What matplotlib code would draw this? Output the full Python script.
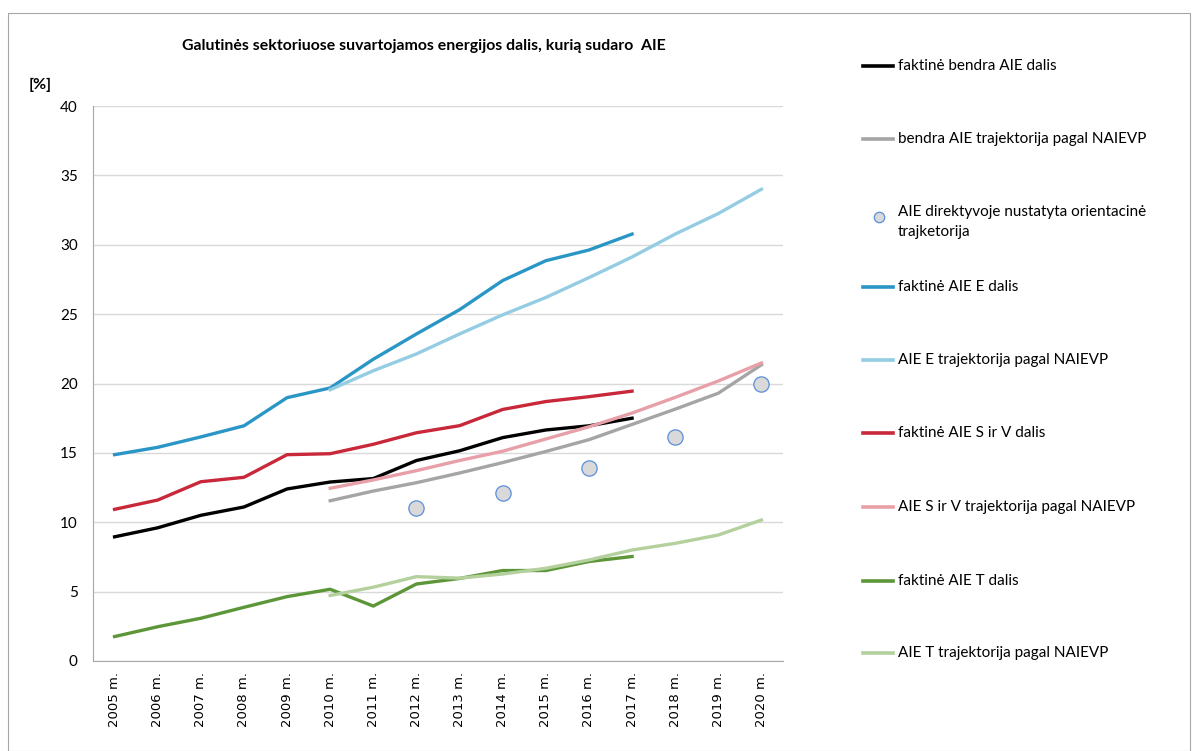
import matplotlib
matplotlib.use("Agg")
import matplotlib.pyplot as plt
from matplotlib.lines import Line2D
from matplotlib.patches import Rectangle

years = [f"{y} m." for y in range(2005, 2021)]

# faktinė bendra AIE dalis (2005-2017)
total_actual = [8.95, 9.6, 10.5, 11.1, 12.4, 12.9, 13.15, 14.45, 15.15, 16.1, 16.65, 16.95, 17.5]
# bendra AIE trajektorija pagal NAIEVP (2010-2020)
total_plan = [11.55, 12.25, 12.85, 13.55, 14.3, 15.1, 15.95, 17.05, 18.15, 19.3, 21.35]
# AIE direktyvoje nustatyta orientacinė trajektorija (2012, 2014, ... 2020)
directive_idx = [7, 9, 11, 13, 15]
directive = [11.0, 12.1, 13.9, 16.15, 20.0]
# E
e_actual = [14.87, 15.4, 16.15, 16.95, 18.98, 19.68, 21.75, 23.57, 25.32, 27.42, 28.85, 29.62, 30.77]
e_plan = [19.55, 20.92, 22.13, 23.57, 24.95, 26.2, 27.63, 29.12, 30.77, 32.25, 34.0]
# S ir V
sv_actual = [10.93, 11.6, 12.92, 13.24, 14.87, 14.94, 15.62, 16.45, 16.96, 18.13, 18.7, 19.05, 19.45]
sv_plan = [12.45, 13.05, 13.72, 14.45, 15.12, 16.0, 16.88, 17.87, 19.0, 20.18, 21.48]
# T
t_actual = [1.76, 2.47, 3.08, 3.87, 4.64, 5.17, 3.96, 5.55, 5.95, 6.52, 6.52, 7.17, 7.53]
t_plan = [4.72, 5.32, 6.08, 5.97, 6.27, 6.68, 7.28, 8.0, 8.48, 9.08, 10.16]

labels = [
    "faktinė bendra AIE dalis",
    "bendra AIE trajektorija pagal NAIEVP",
    "AIE direktyvoje nustatyta orientacinė\ntrajketorija",
    "faktinė AIE E dalis",
    "AIE E trajektorija pagal NAIEVP",
    "faktinė AIE S ir V dalis",
    "AIE S ir V trajektorija pagal NAIEVP",
    "faktinė AIE T dalis",
    "AIE T trajektorija pagal NAIEVP",
]
colors = ["#000000", "#a5a5a5", None, "#2a96c6", "#94cde3",
          "#c8283a", "#e8a0a8", "#5d9639", "#b3d09d"]
dot_face, dot_edge = "#d9d9d9", "#5b8edb"

FONT = ["Lato", "DejaVu Sans"]

fig = plt.figure(figsize=(11.97, 7.51), dpi=100)
fig.add_artist(Rectangle((8 / 1197, 0), 1182 / 1197, 1 - 13 / 751,
                         transform=fig.transFigure, fill=False,
                         edgecolor="#a6a6a6", lw=0.8))
ax = fig.add_axes([93 / 1197, 1 - 661 / 751, 690 / 1197, 555 / 751])

x_act = list(range(len(total_actual)))
x_plan = list(range(5, 5 + len(total_plan)))
lw = 2.4
ax.plot(x_act, total_actual, color=colors[0], lw=lw, zorder=3)
ax.plot(x_plan, total_plan, color=colors[1], lw=lw, zorder=3)
ax.plot(directive_idx, directive, ls="none", marker="o", ms=11,
        mfc=dot_face, mec=dot_edge, mew=0.9, zorder=4)
ax.plot(x_act, e_actual, color=colors[3], lw=lw, zorder=3)
ax.plot(x_plan, e_plan, color=colors[4], lw=lw, zorder=3)
ax.plot(x_act, sv_actual, color=colors[5], lw=lw, zorder=3)
ax.plot(x_plan, sv_plan, color=colors[6], lw=lw, zorder=3)
ax.plot(x_act, t_actual, color=colors[7], lw=lw, zorder=3)
ax.plot(x_plan, t_plan, color=colors[8], lw=lw, zorder=3)

ax.set_xlim(-0.5, len(years) - 0.5)
ax.set_ylim(0, 40)
ax.set_yticks(range(0, 41, 5))
ax.set_yticklabels([str(v) for v in range(0, 41, 5)], fontsize=11, family=FONT)
ax.set_xticks(range(len(years)))
ax.set_xticklabels(years, rotation=90, fontsize=9.5, family="DejaVu Sans")
ax.tick_params(axis="x", length=0, pad=8, colors="#000000")
ax.tick_params(axis="y", length=0, pad=11, colors="#000000")
ax.grid(axis="y", color="#d9d9d9", lw=1)
ax.set_axisbelow(True)
for s in ["top", "right"]:
    ax.spines[s].set_visible(False)
for s in ["left", "bottom"]:
    ax.spines[s].set_color("#a6a6a6")

fig.text(424 / 1197, 1 - 46 / 751, "Galutinės sektoriuose suvartojamos energijos dalis, kurią sudaro  AIE",
         ha="center", va="center", fontsize=11.4, fontweight="bold", family=FONT)
fig.text(29 / 1197, 1 - 85 / 751, "[%]", ha="left", va="center",
         fontsize=11.5, fontweight="bold", family=FONT)

# legend drawn by hand
leg_y = [66, 139, 217, 287, 360, 433, 507, 581, 653]
for lab, col, y in zip(labels, colors, leg_y):
    yf = 1 - y / 751
    if col is None:
        fig.add_artist(Line2D([879 / 1197], [yf], transform=fig.transFigure,
                              marker="o", ms=7.5, mfc=dot_face, mec=dot_edge, mew=0.9))
        fig.text(898 / 1197, yf + 12 / 751, lab, ha="left", va="top",
                 fontsize=11, family=FONT, linespacing=1.55)
    else:
        fig.add_artist(Line2D([863 / 1197, 893 / 1197], [yf, yf],
                              transform=fig.transFigure, color=col, lw=2.6))
        fig.text(898 / 1197, yf, lab, ha="left", va="center", fontsize=11, family=FONT)

fig.savefig("out.png", dpi=100)
